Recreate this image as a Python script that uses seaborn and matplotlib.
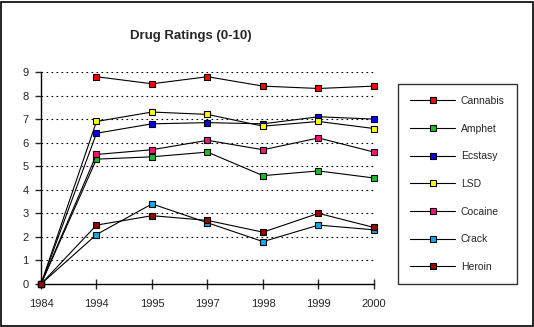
import matplotlib
matplotlib.use("Agg")
import matplotlib.pyplot as plt
from matplotlib.lines import Line2D
from matplotlib.patches import Rectangle
import seaborn as sns
import pandas as pd
import numpy as np

years = ["1984", "1994", "1995", "1997", "1998", "1999", "2000"]
drugs = ["Cannabis", "Amphet", "Ecstasy", "LSD", "Cocaine", "Crack", "Heroin"]
cannabis = [np.nan, 8.8, 8.5, 8.8, 8.4, 8.3, 8.4]
amphet = [0, 5.3, 5.4, 5.6, 4.6, 4.8, 4.5]
ecstasy = [0, 6.4, 6.8, 6.85, 6.8, 7.1, 7.0]
lsd = [0, 6.9, 7.3, 7.2, 6.7, 6.9, 6.6]
cocaine = [0, 5.5, 5.7, 6.1, 5.7, 6.2, 5.6]
crack = [0, 2.1, 3.4, 2.6, 1.8, 2.5, 2.3]
heroin = [0, 2.5, 2.9, 2.7, 2.2, 3.0, 2.4]
colors = ["#FF0000", "#22BB22", "#0000EE", "#FFFF00", "#FF1177", "#11AAEE", "#990000"]

series = [cannabis, amphet, ecstasy, lsd, cocaine, crack, heroin]
rows = []
for d, vals in zip(drugs, series):
    for i, (y, v) in enumerate(zip(years, vals)):
        rows.append({"pos": i, "Year": y, "Drug": d, "Rating": v})
df = pd.DataFrame(rows).dropna()

sns.set_style("white")
plt.rcParams["font.family"] = ["Liberation Sans", "DejaVu Sans"]

fig = plt.figure(figsize=(5.34, 3.27), dpi=100)
fig.patch.set_facecolor("white")
ax = fig.add_axes([41/534, 1-284/327, (374-41)/534, (284-72)/327])

for d, c in zip(drugs, colors):
    sub = df[df["Drug"] == d]
    sns.lineplot(data=sub, x="pos", y="Rating", ax=ax, sort=False,
                 color="black", linewidth=0.8, marker="s", markersize=5,
                 markerfacecolor=c, markeredgecolor="black", markeredgewidth=0.8,
                 clip_on=False, zorder=3)

ax.set_xlim(0, len(years) - 1)
ax.set_ylim(0, 9)
ax.set_xticks(range(len(years)))
ax.set_xticklabels(years)
ax.set_yticks(range(0, 10))
ax.set_xlabel("")
ax.set_ylabel("")
for y in range(1, 10):
    ax.axhline(y, color="black", linestyle=(0, (1.5, 3)), linewidth=0.8, zorder=1)
for s in ["top", "right"]:
    ax.spines[s].set_visible(False)
for s in ["left", "bottom"]:
    ax.spines[s].set_color("black")
    ax.spines[s].set_linewidth(1)
ax.tick_params(axis="y", direction="out", length=4, width=1, pad=5, labelsize=8, left=True)
ax.tick_params(axis="x", direction="inout", length=7, width=1, pad=7, labelsize=8, bottom=True)

fig.text(191/534, 1-36/327, "Drug Ratings (0-10)", ha="center", va="center",
         fontsize=9.5, fontweight="bold")

handles = [Line2D([], [], color="black", linewidth=0.8, marker="s", markersize=5,
                  markerfacecolor=c, markeredgecolor="black", markeredgewidth=0.8)
           for c in colors]
leg = ax.legend(handles, drugs, loc="center",
                bbox_to_anchor=(457.5/534, 1-184/327), bbox_transform=fig.transFigure,
                frameon=True, fancybox=False, fontsize=7.5,
                handlelength=4.3, handletextpad=0.55, labelspacing=1.7,
                borderpad=1.15, borderaxespad=0)
leg.get_frame().set_edgecolor("black")
leg.get_frame().set_linewidth(1)

fig.patches.append(Rectangle((0.5/534, 1/327), 532/534, 324/327, transform=fig.transFigure,
                             fill=False, edgecolor="black", linewidth=1.2))

fig.savefig("out.png", dpi=100)
